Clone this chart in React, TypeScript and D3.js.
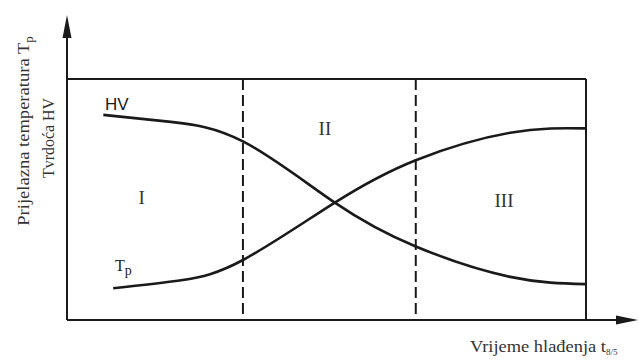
import React from "react";
import * as d3 from "d3";

// cooling time (relative 0..100) and relative value (0..100)
const hvX = [7, 20, 34, 51.6, 67.2, 85.4, 100];
const hvY = [85.1, 82.2, 74, 48.7, 30.5, 17.9, 14.9];
const tpX = [8.9, 22, 34, 51.6, 67.2, 85.4, 100];
const tpY = [13.2, 16.5, 25, 48.7, 66.3, 77.7, 79.5];
const zoneBounds = [33.9, 67.2];
const zoneLabels = ["I", "II", "III"];
const zoneLabelX = [14.4, 49.7, 84.2];
const zoneLabelY = [49.8, 78.6, 48.5];

const W = 638;
const H = 361;

const App = () => {
  const x = d3.scaleLinear().domain([0, 100]).range([67, 586]);
  const y = d3.scaleLinear().domain([0, 100]).range([320, 79]);

  const line = d3
    .line<[number, number]>()
    .x((d) => x(d[0]))
    .y((d) => y(d[1]))
    .curve(d3.curveNatural);

  const hv = hvX.map((v, i) => [v, hvY[i]] as [number, number]);
  const tp = tpX.map((v, i) => [v, tpY[i]] as [number, number]);

  const ink = "#1a1a1a";
  const textInk = "#333";
  const serif = "'Liberation Serif', 'DejaVu Serif', serif";
  const sans = "'Liberation Sans', Arial, sans-serif";

  return (
    <svg
      width={W}
      height={H}
      style={{ position: "absolute", left: 0, top: 0, background: "#fff" }}
    >
      {/* axes */}
      <line x1={x(0)} y1={y(0)} x2={x(0)} y2={30} stroke={ink} strokeWidth={2} />
      <path d={`M${x(0)},15 L${x(0) - 4.5},38 L${x(0) + 4.5},38 Z`} fill={ink} />
      <line x1={x(0)} y1={y(0)} x2={622} y2={y(0)} stroke={ink} strokeWidth={2} />
      <path d={`M638,${y(0)} L616,${y(0) - 4.5} L616,${y(0) + 4.5} Z`} fill={ink} />

      {/* frame */}
      <line x1={x(0)} y1={y(100)} x2={x(100)} y2={y(100)} stroke={ink} strokeWidth={2} />
      <line x1={x(100)} y1={y(100)} x2={x(100)} y2={y(0)} stroke={ink} strokeWidth={2} />

      {/* zone boundaries */}
      {zoneBounds.map((b) => (
        <line
          key={b}
          x1={x(b)}
          x2={x(b)}
          y1={y(100)}
          y2={y(0)}
          stroke={ink}
          strokeWidth={2}
          strokeDasharray="11,5"
        />
      ))}

      {/* curves */}
      <path d={line(hv) || ""} fill="none" stroke={ink} strokeWidth={2.6} />
      <path d={line(tp) || ""} fill="none" stroke={ink} strokeWidth={2.6} />

      {/* zone labels */}
      {zoneLabels.map((t, i) => (
        <text
          key={t}
          x={x(zoneLabelX[i])}
          y={y(zoneLabelY[i])}
          textAnchor="middle"
          dominantBaseline="middle"
          fontFamily={serif}
          fontSize={19}
          fill={textInk}
        >
          {t}
        </text>
      ))}

      {/* curve labels */}
      <text x={105} y={110} fontFamily={sans} fontSize={17} fill={ink}>
        HV
      </text>
      <text x={115} y={271} fontFamily={serif} fontSize={16} fill={ink}>
        T
        <tspan fontSize={14} dy={4}>
          p
        </tspan>
      </text>

      {/* axis titles */}
      <text
        transform="translate(29,131) rotate(-90)"
        textAnchor="middle"
        fontFamily={serif}
        fontSize={16}
        fill={textInk}
      >
        <tspan textLength={183} lengthAdjust="spacingAndGlyphs">
          Prijelazna temperatura T
        </tspan>
        <tspan fontSize={13} dy={4}>
          p
        </tspan>
      </text>
      <text
        transform="translate(54,138) rotate(-90)"
        textAnchor="middle"
        fontFamily={serif}
        fontSize={16}
        fill={textInk}
        textLength={80}
        lengthAdjust="spacingAndGlyphs"
      >
        Tvrdoća HV
      </text>
      <text x={470} y={352} fontFamily={serif} fontSize={16} fill={textInk}>
        <tspan textLength={136} lengthAdjust="spacingAndGlyphs">
          Vrijeme hlađenja t
        </tspan>
        <tspan fontSize={9} dy={3}>
          8/5
        </tspan>
      </text>
    </svg>
  );
};

export default App;
